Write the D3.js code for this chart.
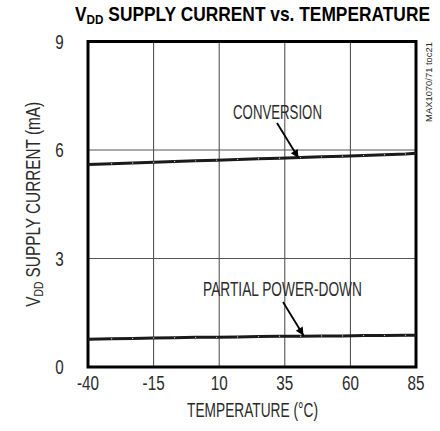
<!DOCTYPE html>
<html>
<head>
<meta charset="utf-8">
<title>VDD Supply Current vs. Temperature</title>
<script src="https://d3js.org/d3.v7.min.js"></script>
<style>
body { margin: 0; background: #fff; }
svg text { font-family: 'Liberation Sans', Arial, sans-serif; fill: #2a2a2a; }
.title { font-weight: bold; fill: #000; }
</style>
</head>
<body>
<script>
// data
var temps = [-40, -31, -23, -15, -7, 1, 9, 17, 25, 33, 41, 49, 57, 65, 73, 81, 85];
var conversion = [5.60, 5.62, 5.64, 5.66, 5.68, 5.70, 5.72, 5.74, 5.76, 5.77, 5.79, 5.81, 5.83, 5.85, 5.87, 5.89, 5.91];
var powerDown = [0.77, 0.78, 0.79, 0.80, 0.81, 0.82, 0.82, 0.83, 0.84, 0.85, 0.85, 0.86, 0.86, 0.87, 0.87, 0.88, 0.88];
var xTicks = [-40, -15, 10, 35, 60, 85];
var yTicks = [0, 3, 6, 9];

var w = 440, h = 431;
var pLeft = 88, pRight = 416, pTop = 41.5, pBottom = 367;

var svg = d3.select("body").append("svg")
  .attr("width", w)
  .attr("height", h);

var x = d3.scaleLinear().domain([-40, 85]).range([pLeft, pRight]);
var y = d3.scaleLinear().domain([0, 9]).range([pBottom, pTop]);

// condensed text: centred on (cx, baseline cy), squeezed to a width or by a factor
function narrow(parent, cx, cy, rot, size, width, factor) {
  var g = parent.append("g")
    .attr("transform", "translate(" + cx + "," + cy + ")" + (rot ? " rotate(" + rot + ")" : ""));
  var t = g.append("text").attr("text-anchor", "middle").attr("font-size", size);
  t.fit = function() {
    var len = t.node().getComputedTextLength();
    var s = width ? width / len : factor;
    t.attr("transform", "scale(" + s + ",1)");
    return t;
  };
  return t;
}

// grid
var grid = svg.append("g");
grid.selectAll("line.v").data(xTicks.slice(1, -1)).enter().append("line")
  .attr("x1", function(d){ return x(d); }).attr("x2", function(d){ return x(d); })
  .attr("y1", pTop).attr("y2", pBottom)
  .attr("stroke", "#444").attr("stroke-width", 1);
grid.selectAll("line.h").data(yTicks.slice(1, -1)).enter().append("line")
  .attr("y1", function(d){ return y(d); }).attr("y2", function(d){ return y(d); })
  .attr("x1", pLeft).attr("x2", pRight)
  .attr("stroke", "#555").attr("stroke-width", 1);

// tick labels
xTicks.forEach(function(d){
  narrow(svg, x(d), 389.5, 0, 19.5, 0, 0.78).text(String(d)).fit();
});
yTicks.forEach(function(d){
  narrow(svg, 59.5, y(d) + 7, 0, 19.5, 0, 0.78).text(String(d)).fit();
});

// frame
svg.append("rect")
  .attr("x", pLeft).attr("y", pTop)
  .attr("width", pRight - pLeft).attr("height", pBottom - pTop)
  .attr("fill", "none").attr("stroke", "#000").attr("stroke-width", 3);

// curves
var line = d3.line()
  .x(function(d){ return x(d[0]); })
  .y(function(d){ return y(d[1]); });

[conversion, powerDown].forEach(function(vals){
  var pts = temps.map(function(t, i){ return [t, vals[i]]; });
  svg.append("path")
    .datum(pts)
    .attr("d", line)
    .attr("fill", "none")
    .attr("stroke", "#1a1a1a")
    .attr("stroke-width", 3);
  svg.append("g").selectAll("circle").data(pts.slice(1, -1)).enter().append("circle")
    .attr("cx", function(d){ return x(d[0]); })
    .attr("cy", function(d){ return y(d[1]); })
    .attr("r", 0.7)
    .attr("fill", "#bbb");
});

// arrow marker
svg.append("defs").append("marker")
  .attr("id", "arrow")
  .attr("viewBox", "0 0 10 10")
  .attr("refX", 10).attr("refY", 5)
  .attr("markerWidth", 7).attr("markerHeight", 4.5)
  .attr("markerUnits", "strokeWidth")
  .attr("orient", "auto")
  .append("path").attr("d", "M0,0L10,5L0,10z").attr("fill", "#000");

// annotations
narrow(svg, 277.5, 119, 0, 20, 89).text("CONVERSION").fit();
svg.append("line").attr("x1", 277).attr("y1", 123).attr("x2", 298.5).attr("y2", 158)
  .attr("stroke", "#000").attr("stroke-width", 1.8).attr("marker-end", "url(#arrow)");

narrow(svg, 282.5, 296, 0, 20, 159).text("PARTIAL POWER-DOWN").fit();
svg.append("line").attr("x1", 283).attr("y1", 302).attr("x2", 303.5).attr("y2", 335.5)
  .attr("stroke", "#000").attr("stroke-width", 1.8).attr("marker-end", "url(#arrow)");

// titles
var title = narrow(svg, 252.5, 20.5, 0, 20, 355).attr("class", "title");
title.append("tspan").text("V");
title.append("tspan").attr("font-size", 13.5).attr("dy", 3).text("DD");
title.append("tspan").attr("dy", -3).text(" SUPPLY CURRENT vs. TEMPERATURE");
title.fit();

narrow(svg, 252.5, 416.5, 0, 19.5, 131).text("TEMPERATURE (\u00B0C)").fit();

var yTitle = narrow(svg, 40, (pTop + pBottom) / 2, -90, 19.5, 205);
yTitle.append("tspan").text("V");
yTitle.append("tspan").attr("font-size", 13).attr("dy", 3).text("DD");
yTitle.append("tspan").attr("dy", -3).text(" SUPPLY CURRENT (mA)");
yTitle.fit();

narrow(svg, 432, 82, -90, 9.5, 80).text("MAX1070/71 toc21").fit();
</script>
</body>
</html>
